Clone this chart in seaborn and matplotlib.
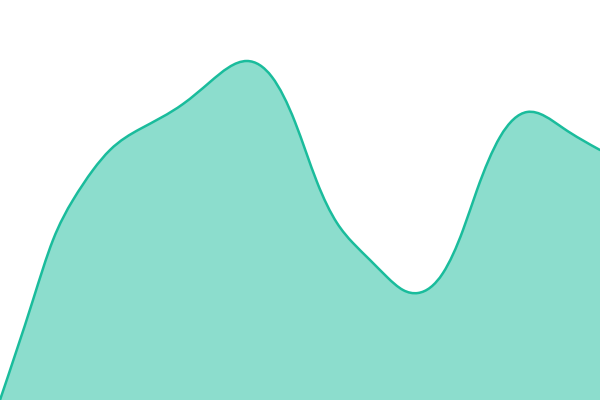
import numpy as np
import matplotlib
matplotlib.use("Agg")
import matplotlib.pyplot as plt
from matplotlib.path import Path
from matplotlib.patches import PathPatch
import seaborn as sns

# Data (x position, value)
x_vals = [0, 33, 53, 73, 93, 110, 140, 183, 210, 247, 272, 295, 317, 337, 353,
          370, 387, 403, 418, 443, 463, 477, 500, 527, 563, 600]
y_vals = [0, 100, 160, 200, 230, 250, 271, 296, 318, 339, 323, 278, 218, 177, 157,
          140, 123, 110, 107, 127, 170, 210, 263, 288, 272, 250]

line_color = "#1abc9c"

sns.set_theme(style="white")

def natural_tangents(x, y):
    x = np.asarray(x, float); y = np.asarray(y, float)
    n = len(x)
    h = np.diff(x); d = np.diff(y) / h
    A = np.zeros((n, n)); b = np.zeros(n)
    A[0, 0] = 2; A[0, 1] = 1; b[0] = 3 * d[0]
    A[-1, -2] = 1; A[-1, -1] = 2; b[-1] = 3 * d[-1]
    for i in range(1, n - 1):
        A[i, i - 1] = h[i]
        A[i, i] = 2 * (h[i - 1] + h[i])
        A[i, i + 1] = h[i - 1]
        b[i] = 3 * (h[i] * d[i - 1] + h[i - 1] * d[i])
    return np.linalg.solve(A, b)

def smooth_path(x, y, close_to=None):
    m = natural_tangents(x, y)
    verts = [(x[0], y[0])]; codes = [Path.MOVETO]
    for i in range(len(x) - 1):
        h = x[i + 1] - x[i]
        verts += [(x[i] + h / 3, y[i] + m[i] * h / 3),
                  (x[i + 1] - h / 3, y[i + 1] - m[i + 1] * h / 3),
                  (x[i + 1], y[i + 1])]
        codes += [Path.CURVE4] * 3
    if close_to is not None:
        verts += [(x[-1], close_to), (x[0], close_to), (x[0], y[0])]
        codes += [Path.LINETO, Path.LINETO, Path.CLOSEPOLY]
    return Path(verts, codes)

fig = plt.figure(figsize=(6, 4), dpi=100)
ax = fig.add_axes([0, 0, 1, 1])
ax.set_xlim(0, 600)
ax.set_ylim(0, 400)
ax.axis("off")

ax.add_patch(PathPatch(smooth_path(x_vals, y_vals, close_to=0), facecolor=line_color,
                       alpha=0.5, edgecolor="none"))
ax.add_patch(PathPatch(smooth_path(x_vals, y_vals), facecolor="none",
                       edgecolor=line_color, linewidth=1.8, capstyle="round"))

fig.savefig("out.png", dpi=100)
